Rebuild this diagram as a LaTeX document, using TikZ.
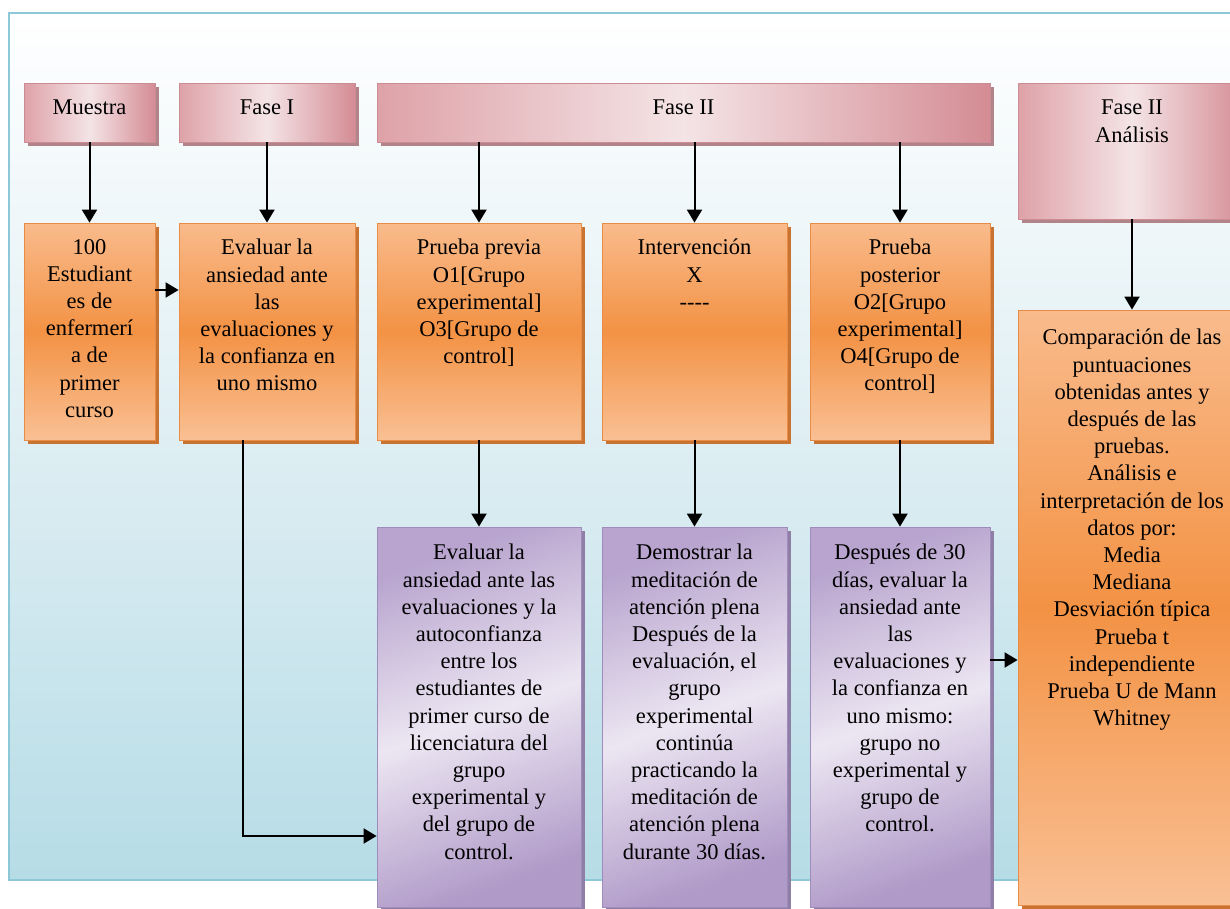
\documentclass[tikz,border=0pt]{standalone}
\usepackage{fontspec}
\setmainfont{Liberation Serif}
\usetikzlibrary{arrows.meta,calc}
\definecolor{frameline}{RGB}{140,200,215}
\definecolor{frameA}{RGB}{255,255,255}
\definecolor{frameB}{RGB}{222,238,243}
\definecolor{frameC}{RGB}{182,220,230}
\definecolor{pinkA}{RGB}{222,162,168}
\definecolor{pinkB}{RGB}{244,228,230}
\definecolor{pinkC}{RGB}{212,140,148}
\definecolor{pinkline}{RGB}{205,140,148}
\definecolor{pinkshadow}{RGB}{176,132,137}
\definecolor{orA}{RGB}{249,187,140}
\definecolor{orB}{RGB}{243,146,68}
\definecolor{orC}{RGB}{249,192,148}
\definecolor{orline}{RGB}{232,140,70}
\definecolor{orshadow}{RGB}{200,115,50}
\definecolor{puA}{RGB}{184,164,206}
\definecolor{puB}{RGB}{236,230,242}
\definecolor{puC}{RGB}{176,154,200}
\definecolor{puline}{RGB}{160,140,188}
\definecolor{pushadow}{RGB}{143,127,166}
\begin{document}
\begin{tikzpicture}[x=1pt,y=-1pt,
  arr/.style={line width=2pt,-{Triangle[length=13pt,width=15pt]}},
  hdr/.style={draw=pinkline,line width=0.8pt,left color=pinkA,right color=pinkC,middle color=pinkB,
    preaction={fill=pinkshadow,transform canvas={xshift=4pt,yshift=-4pt}},
    minimum height=59pt,inner sep=0pt},
  obox/.style={draw=orline,line width=0.8pt,top color=orA,bottom color=orC,middle color=orB,
    preaction={fill=orshadow,transform canvas={xshift=4pt,yshift=-4pt}},
    minimum height=217pt,inner sep=0pt},
  pbox/.style={draw=puline,line width=0.8pt,left color=puA,right color=puC,middle color=puB,shading angle=20,
    preaction={fill=pushadow,transform canvas={xshift=4pt,yshift=-4pt}},
    minimum height=380pt,inner sep=0pt},
  txt/.style={anchor=north,align=center,inner sep=0pt,text=black,font=\rmfamily\fontsize{22.5}{27.2}\selectfont}
]
\useasboundingbox (0,0) rectangle (1230,908);
\clip (0,0) rectangle (1230,908);
% frame
\fill[top color=frameA,bottom color=frameC,middle color=frameB] (9,13) rectangle (1245,880);
\draw[frameline,line width=2pt] (9,13) rectangle (1245,880);
% headers
\node[hdr,minimum width=131pt] (hM) at (89.5,112.5) {};
\node[hdr,minimum width=176pt] (hF1) at (267,112.5) {};
\node[hdr,minimum width=613pt] (hF2) at (683.5,112.5) {};
\node[hdr,minimum width=228pt,minimum height=136pt] (hF3) at (1132,151) {};
% orange boxes
\node[obox,minimum width=131pt] (oM) at (89.5,331.5) {};
\node[obox,minimum width=176pt] (oF1) at (267,331.5) {};
\node[obox,minimum width=204pt] (oP1) at (479,331.5) {};
\node[obox,minimum width=185pt] (oP2) at (694.5,331.5) {};
\node[obox,minimum width=180pt] (oP3) at (900,331.5) {};
\node[obox,minimum width=228pt,minimum height=595pt] (oC) at (1132,607.5) {};
% purple boxes
\node[pbox,minimum width=204pt] (pP1) at (479,717) {};
\node[pbox,minimum width=185pt] (pP2) at (694.5,717) {};
\node[pbox,minimum width=180pt] (pP3) at (900,717) {};
% texts
\node[txt] (tM) at (89.5,100) {Muestra};
\node[txt] (tF1) at (267,100) {Fase I};
\node[txt] (tF2) at (683.5,100) {Fase II};
\node[txt] (tF3) at (1132,100) {Fase II\\Análisis};
\node[txt] (toM) at (89.5,239) {100\\Estudiant\\es de\\enfermerí\\a de\\primer\\curso};
\node[txt] (toF1) at (267,239) {Evaluar la\\ansiedad ante\\las\\evaluaciones y\\la confianza en\\uno mismo};
\node[txt] (toP1) at (479,239) {Prueba previa\\O1[Grupo\\experimental]\\O3[Grupo de\\control]};
\node[txt] (toP2) at (694.5,239) {Intervención\\X\\{-}{-}{-}{-}};
\node[txt] (toP3) at (900,239) {Prueba\\posterior\\O2[Grupo\\experimental]\\O4[Grupo de\\control]};
\node[txt] (toC) at (1132,329) {Comparación de las\\puntuaciones\\obtenidas antes y\\después de las\\pruebas.\\Análisis e\\interpretación de los\\datos por:\\Media\\Mediana\\Desviación típica\\Prueba t\\independiente\\Prueba U de Mann\\Whitney};
\node[txt] (tpP1) at (479,544) {Evaluar la\\ansiedad ante las\\evaluaciones y la\\autoconfianza\\entre los\\estudiantes de\\primer curso de\\licenciatura del\\grupo\\experimental y\\del grupo de\\control.};
\node[txt] (tpP2) at (694.5,544) {Demostrar la\\meditación de\\atención plena\\Después de la\\evaluación, el\\grupo\\experimental\\continúa\\practicando la\\meditación de\\atención plena\\durante 30 días.};
\node[txt] (tpP3) at (900,544) {Después de 30\\días, evaluar la\\ansiedad ante\\las\\evaluaciones y\\la confianza en\\uno mismo:\\grupo no\\experimental y\\grupo de\\control.};
% connectors
\draw[arr] (hM.south) -- (oM.north);
\draw[arr] (hF1.south) -- (oF1.north);
\draw[arr] (hF2.south -| oP1.north) -- (oP1.north);
\draw[arr] (hF2.south -| oP2.north) -- (oP2.north);
\draw[arr] (hF2.south -| oP3.north) -- (oP3.north);
\draw[arr] (hF3.south) -- (oC.north);
\draw[arr] ([yshift=41.5pt]oM.east) -- ([yshift=41.5pt]oF1.west);
\draw[arr] (oP1.south) -- (pP1.north);
\draw[arr] (oP2.south) -- (pP2.north);
\draw[arr] (oP3.south) -- (pP3.north);
\draw[arr] ([xshift=-24pt]oF1.south) |- ([yshift=-119pt]pP1.west);
\draw[arr] ([yshift=57pt]pP3.east) -- ([yshift=57pt]pP3.east -| oC.west);
\end{tikzpicture}
\end{document}
